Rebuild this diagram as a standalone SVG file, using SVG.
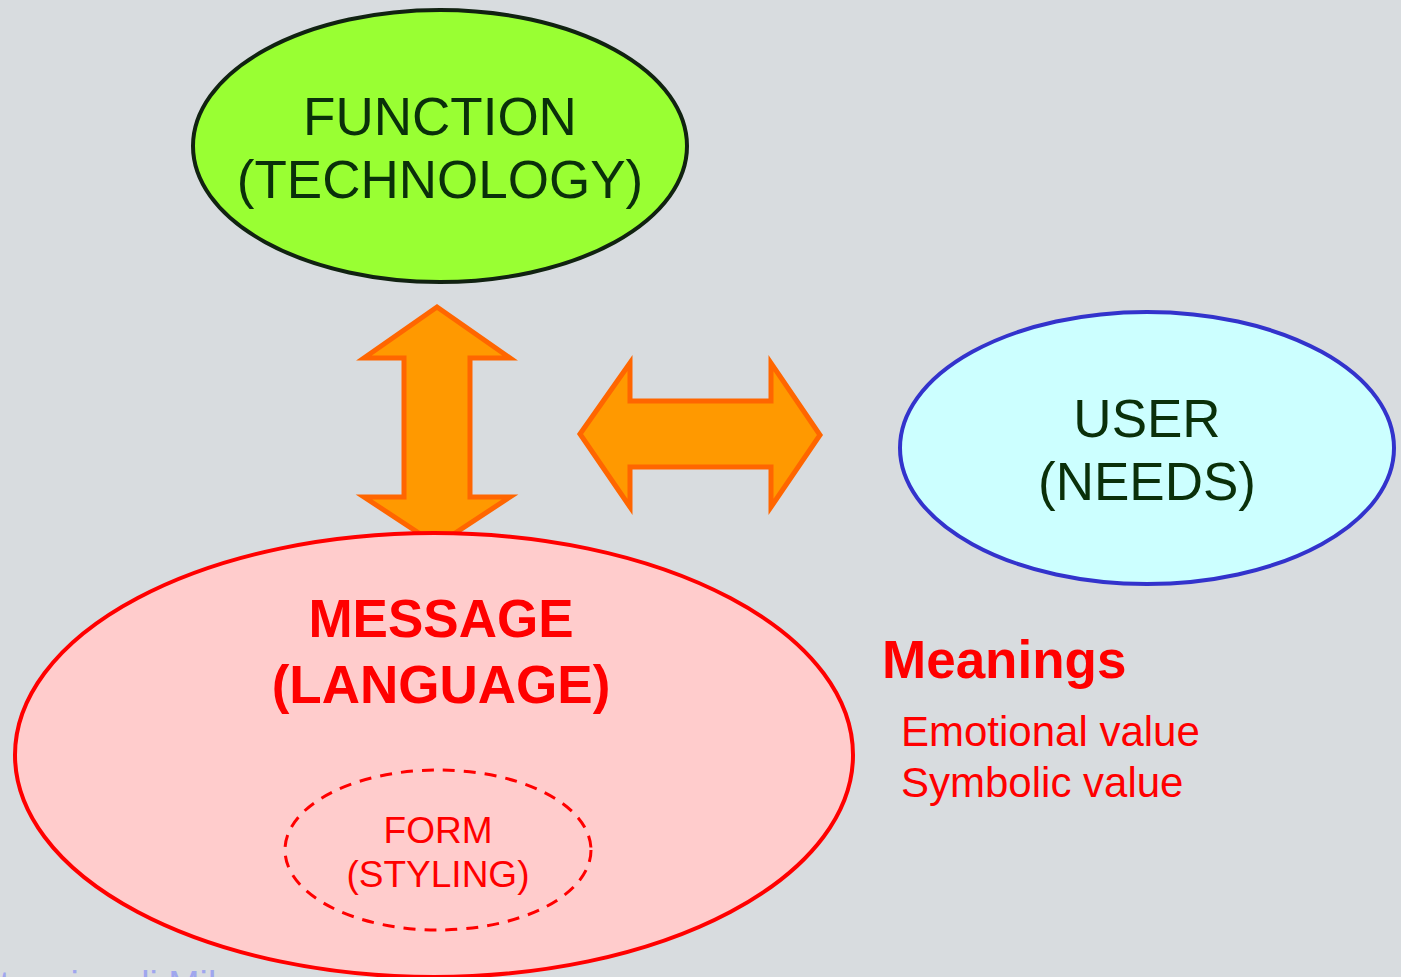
<svg xmlns="http://www.w3.org/2000/svg" width="1401" height="977" viewBox="0 0 1401 977">
<style>
.t{font-family:"Liberation Sans",Arial,sans-serif;text-anchor:middle}
.g{fill:#0a300a;font-size:53px}
.arrow{fill:#FF9900;stroke:#FF6600;stroke-width:5;stroke-linejoin:miter}
</style>
<rect width="1401" height="977" fill="#D8DCDF"/>
<text x="-63" y="997" fill="#9FA6EE" font-family="Liberation Sans,Arial,sans-serif" font-size="37.5">Politecnico di Milano</text>
<g id="connectors">
<polygon class="arrow" points="437,307 510,358 470,358 470,497 510,497 437,545 364,497 404,497 404,358 364,358"/>
<polygon class="arrow" points="580,434 630,363 630,401 771,401 771,363 820,435 771,507 771,467 630,467 630,507"/>
</g>
<g id="function">
<ellipse cx="440" cy="146" rx="247" ry="136" fill="#99FF33" stroke="#112211" stroke-width="4"/>
<text class="t g" x="440" y="135">FUNCTION</text>
<text class="t g" x="440" y="198">(TECHNOLOGY)</text>
</g>
<g id="user">
<ellipse cx="1147" cy="448" rx="247" ry="136" fill="#CCFFFF" stroke="#3333CC" stroke-width="4"/>
<text class="t g" x="1147" y="437">USER</text>
<text class="t g" x="1147" y="500">(NEEDS)</text>
</g>
<g id="message">
<ellipse cx="434" cy="755" rx="419" ry="222" fill="#FFCCCC" stroke="#FF0000" stroke-width="4"/>
<text class="t" x="441" y="637" fill="#FF0000" font-size="53" font-weight="bold">MESSAGE</text>
<text class="t" x="441" y="703" fill="#FF0000" font-size="53" font-weight="bold">(LANGUAGE)</text>
</g>
<g id="form">
<ellipse cx="438" cy="850" rx="153" ry="80" fill="none" stroke="#FF0000" stroke-width="3" stroke-dasharray="12 9"/>
<text class="t" x="438" y="843" fill="#FF0000" font-size="37">FORM</text>
<text class="t" x="438" y="887" fill="#FF0000" font-size="37">(STYLING)</text>
</g>
<g id="meanings">
<text x="882" y="678" fill="#FF0000" font-family="Liberation Sans,Arial,sans-serif" font-size="53" font-weight="bold">Meanings</text>
<text x="901" y="746" fill="#FF0000" font-family="Liberation Sans,Arial,sans-serif" font-size="42">Emotional value</text>
<text x="901" y="797" fill="#FF0000" font-family="Liberation Sans,Arial,sans-serif" font-size="42">Symbolic value</text>
</g>
</svg>
